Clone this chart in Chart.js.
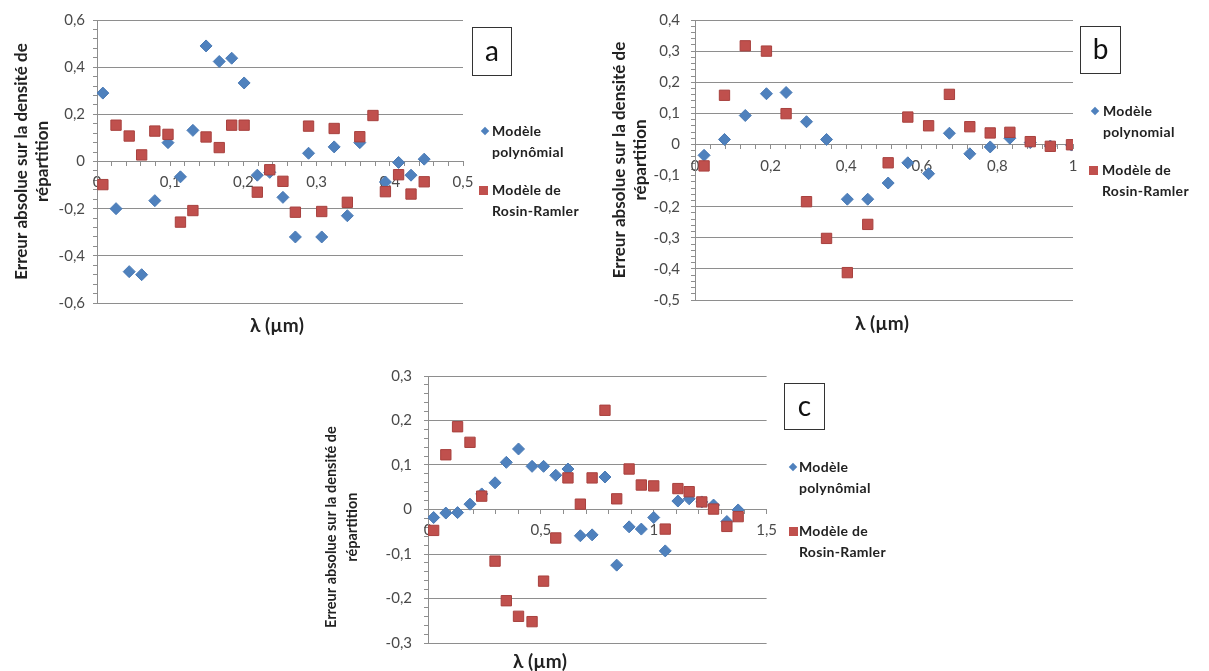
<!DOCTYPE html>
<html lang="fr">
<head>
<meta charset="utf-8">
<script src="https://cdn.jsdelivr.net/npm/chart.js@4.4.1/dist/chart.umd.min.js"></script>
<style>
  body { margin: 0; background: #fff; width: 1209px; height: 671px; position: relative; overflow: hidden; font-family: Lato, 'Open Sans', sans-serif; }
  canvas { position: absolute; }
  .lg { position: absolute; font-weight: bold; font-size: 14px; line-height: 21px; color: #222; white-space: nowrap; letter-spacing: 0.3px; }
  .mk { position: absolute; }
  .dia { width: 6px; height: 6px; background: #4F81BD; transform: rotate(45deg); }
  .sq { width: 9px; height: 9px; background: #C0504D; }
  .box { position: absolute; border: 1px solid #333; box-sizing: border-box; font-size: 28px; color: #111;
         display: flex; align-items: center; justify-content: center; padding-bottom: 4px; }
  .xt { position: absolute; font-weight: bold; font-size: 19px; color: #222; transform: translate(-50%, -50%); white-space: nowrap; }
</style>
</head>
<body>
<canvas id="chartA" width="485" height="320" style="left:0px; top:0px"></canvas>
<canvas id="chartB" width="490" height="320" style="left:600px; top:0px"></canvas>
<canvas id="chartC" width="475" height="316" style="left:310px; top:355px"></canvas>

<!-- panel letters -->
<div class="box" style="left:472px; top:27px; width:40px; height:49px">a</div>
<div class="box" style="left:1080px; top:26px; width:41px; height:48px">b</div>
<div class="box" style="left:784px; top:383px; width:41px; height:47px">c</div>

<!-- x axis titles -->
<div class="xt" style="left:277px; top:324px">λ (µm)</div>
<div class="xt" style="left:882px; top:322px">λ (µm)</div>
<div class="xt" style="left:540px; top:660px">λ (µm)</div>

<!-- legends -->
<div class="mk dia" style="left:482px; top:128px"></div>
<div class="lg" style="left:492px; top:120px">Modèle<br>polynômial</div>
<div class="mk sq" style="left:479px; top:186px"></div>
<div class="lg" style="left:492px; top:179px">Modèle de<br>Rosin-Ramler</div>

<div class="mk dia" style="left:1092px; top:108px"></div>
<div class="lg" style="left:1103px; top:100px">Modèle<br>polynomial</div>
<div class="mk sq" style="left:1089px; top:166px"></div>
<div class="lg" style="left:1102px; top:159px">Modèle de<br>Rosin-Ramler</div>

<div class="mk dia" style="left:790px; top:464px"></div>
<div class="lg" style="left:799px; top:456px">Modèle<br>polynômial</div>
<div class="mk sq" style="left:789px; top:527px"></div>
<div class="lg" style="left:799px; top:520px">Modèle de<br>Rosin-Ramler</div>

<script>
// Panel a
const lambdaA = [0.008, 0.026, 0.044, 0.061, 0.079, 0.097, 0.114, 0.131, 0.149, 0.167, 0.184, 0.201, 0.219,
                 0.236, 0.254, 0.271, 0.289, 0.307, 0.324, 0.342, 0.359, 0.377, 0.394, 0.412, 0.429, 0.447];
const polyA = [0.29, -0.20, -0.467, -0.48, -0.166, 0.08, -0.065, 0.132, 0.49, 0.424, 0.438, 0.333, -0.058,
               -0.046, -0.152, -0.32, 0.035, -0.32, 0.062, -0.23, 0.08, null, -0.087, -0.004, -0.058, 0.01];
const rosinA = [-0.098, 0.154, 0.108, 0.028, 0.129, 0.115, -0.257, -0.208, 0.104, 0.059, 0.154, 0.154, -0.13,
                -0.035, -0.084, -0.215, 0.15, -0.212, 0.14, -0.173, 0.105, 0.195, -0.128, -0.056, -0.138, -0.086];
const xTicksA = [0, 0.1, 0.2, 0.3, 0.4, 0.5];
const yTicksA = [-0.6, -0.4, -0.2, 0, 0.2, 0.4, 0.6];

// Panel b
const lambdaB = [0.024, 0.078, 0.133, 0.189, 0.241, 0.295, 0.348, 0.403, 0.457, 0.511, 0.563, 0.618, 0.673,
                 0.727, 0.781, 0.833, 0.887, 0.94, 0.996];
const polyB = [-0.035, 0.016, 0.093, 0.163, 0.167, 0.073, 0.016, -0.176, -0.176, -0.124, -0.059, -0.094, 0.036,
               -0.03, -0.008, 0.02, 0.006, -0.005, -0.002];
const rosinB = [-0.069, 0.158, 0.317, 0.30, 0.099, -0.184, -0.302, -0.412, -0.257, -0.059, 0.088, 0.06, 0.161,
                0.057, 0.037, 0.039, 0.009, -0.006, -0.001];
const xTicksB = [0, 0.2, 0.4, 0.6, 0.8, 1];
const yTicksB = [-0.5, -0.4, -0.3, -0.2, -0.1, 0, 0.1, 0.2, 0.3, 0.4];
const noGridB = [-0.1];   // that gridline is not drawn in the original

// Panel c
const lambdaC = [0.025, 0.079, 0.131, 0.186, 0.238, 0.297, 0.347, 0.401, 0.461, 0.512, 0.566, 0.62, 0.675,
                 0.727, 0.784, 0.836, 0.891, 0.945, 1.0, 1.051, 1.107, 1.157, 1.213, 1.265, 1.324, 1.374];
const polyC = [-0.018, -0.008, -0.007, 0.012, 0.035, 0.06, 0.106, 0.136, 0.097, 0.097, 0.077, 0.091, -0.059,
               -0.057, 0.073, -0.125, -0.039, -0.044, -0.018, -0.093, 0.019, 0.024, 0.017, 0.01, -0.027, -0.001];
const rosinC = [-0.047, 0.123, 0.186, 0.151, 0.03, -0.116, -0.205, -0.24, -0.252, -0.161, -0.064, 0.071, 0.012,
                0.071, 0.223, 0.024, 0.091, 0.055, 0.053, -0.044, 0.047, 0.04, 0.017, 0.001, -0.038, -0.016];
const xTicksC = [0, 0.5, 1, 1.5];
const yTicksC = [-0.3, -0.2, -0.1, 0, 0.1, 0.2, 0.3];

const GRID = '#8e8e8e';
const LABEL_COLOR = '#4a4a4a';
const Y_TITLE = ['Erreur absolue sur la densité de', 'répartition'];

// French decimal comma
function fmt(v) {
  return String(Math.round(v * 10) / 10).replace('.', ',');
}

// major ticks plus 4 minor marks between each pair (minor ones get no label / gridline)
function withMinor(major) {
  const out = [];
  for (let i = 0; i < major.length; i++) {
    out.push({ value: major[i], m: true });
    if (i < major.length - 1) {
      const step = (major[i + 1] - major[i]) / 5;
      for (let k = 1; k < 5; k++) out.push({ value: major[i] + step * k, m: false });
    }
  }
  return out;
}

function toPoints(xs, ys) {
  return xs.map((x, i) => ys[i] === null ? null : { x: x, y: ys[i] }).filter(p => p);
}

function createPanel(id, p) {
  const ctx = document.getElementById(id).getContext('2d');
  const skip = p.noGrid || [];

  new Chart(ctx, {
    type: 'scatter',
    data: {
      datasets: [{
        label: 'Modèle de Rosin-Ramler',
        data: toPoints(p.lambda, p.rosin),
        pointStyle: 'rect',
        pointRadius: 7.3,
        backgroundColor: '#C0504D',
        borderColor: '#A8413E',
        borderWidth: 1,
        order: 0
      }, {
        label: p.polyLabel,
        data: toPoints(p.lambda, p.poly),
        pointStyle: 'rectRot',
        pointRadius: 6,
        backgroundColor: '#4F81BD',
        borderColor: '#4A7AB5',
        borderWidth: 1,
        order: 1
      }]
    },
    options: {
      responsive: false,
      animation: false,
      devicePixelRatio: 1,
      layout: { padding: p.padding },
      plugins: {
        legend: { display: false },
        tooltip: { enabled: false }
      },
      scales: {
        x: {
          type: 'linear',
          min: p.xTicks[0],
          max: p.xTicks[p.xTicks.length - 1],
          position: { y: 0 },
          afterBuildTicks: function(scale) { scale.ticks = withMinor(p.xTicks); },
          grid: { drawOnChartArea: false, drawTicks: true, tickLength: 4, color: GRID, tickColor: GRID },
          border: { color: GRID },
          ticks: {
            autoSkip: false,
            maxRotation: 0,
            padding: p.xPad,
            color: LABEL_COLOR,
            font: { family: 'Lato', size: 15 },
            callback: function(value, index, ticks) { return ticks[index].m ? fmt(value) : ''; }
          }
        },
        y: {
          type: 'linear',
          min: p.yTicks[0],
          max: p.yTicks[p.yTicks.length - 1],
          afterBuildTicks: function(scale) { scale.ticks = withMinor(p.yTicks); },
          afterFit: function(scale) { scale.width = p.yWidth; },
          grid: {
            drawTicks: true,
            tickLength: 4,
            tickColor: GRID,
            color: function(c) {
              if (!c.tick || !c.tick.m) return 'rgba(0,0,0,0)';
              return skip.some(v => Math.abs(v - c.tick.value) < 1e-9) ? 'rgba(0,0,0,0)' : GRID;
            }
          },
          border: { color: GRID },
          ticks: {
            autoSkip: false,
            padding: p.yPad,
            color: LABEL_COLOR,
            font: { family: 'Lato', size: 15 },
            callback: function(value, index, ticks) { return ticks[index].m ? fmt(value) : ''; }
          },
          title: {
            display: true,
            text: p.yTitle || Y_TITLE,
            color: '#222',
            font: { family: 'Lato', size: p.titleSize, weight: 'bold', lineHeight: '21px' },
            padding: { top: p.titlePad, bottom: 0 }
          }
        }
      }
    }
  });
}

createPanel('chartA', {
  lambda: lambdaA, poly: polyA, rosin: rosinA, polyLabel: 'Modèle polynômial',
  xTicks: xTicksA, yTicks: yTicksA,
  padding: { top: 20, bottom: 15, left: 0, right: 22 },
  yWidth: 97, yPad: 8, xPad: 8, titleSize: 17, titlePad: 11
});

createPanel('chartB', {
  lambda: lambdaB, poly: polyB, rosin: rosinB, polyLabel: 'Modèle polynomial',
  xTicks: xTicksB, yTicks: yTicksB, noGrid: noGridB,
  padding: { top: 17, bottom: 17, left: 0, right: 17 },
  yWidth: 95, yPad: 11, xPad: 9, titleSize: 17, titlePad: 9
});

// in panel c the y title sits lower than the plot centre: trailing no-break spaces push it down
const padC = '\u00A0'.repeat(10);
createPanel('chartC', {
  lambda: lambdaC, poly: polyC, rosin: rosinC, polyLabel: 'Modèle polynômial',
  xTicks: xTicksC, yTicks: yTicksC,
  padding: { top: 17, bottom: 28, left: 0, right: 17 },
  yWidth: 118, yPad: 12, xPad: 8, titleSize: 14.5, titlePad: 11,
  yTitle: [Y_TITLE[0] + padC, Y_TITLE[1] + padC]
});
</script>
</body>
</html>
